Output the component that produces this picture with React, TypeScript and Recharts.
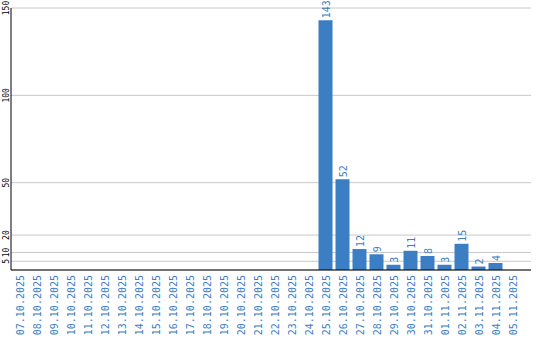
import { Bar, BarChart, CartesianGrid, LabelList, XAxis, YAxis } from 'recharts';

const days = [
  '07.10.2025', '08.10.2025', '09.10.2025', '10.10.2025', '11.10.2025',
  '12.10.2025', '13.10.2025', '14.10.2025', '15.10.2025', '16.10.2025',
  '17.10.2025', '18.10.2025', '19.10.2025', '20.10.2025', '21.10.2025',
  '22.10.2025', '23.10.2025', '24.10.2025', '25.10.2025', '26.10.2025',
  '27.10.2025', '28.10.2025', '29.10.2025', '30.10.2025', '31.10.2025',
  '01.11.2025', '02.11.2025', '03.11.2025', '04.11.2025', '05.11.2025',
];

const counts = [
  0, 0, 0, 0, 0, 0, 0, 0, 0, 0, 0, 0, 0, 0, 0, 0, 0, 0,
  143, 52, 12, 9, 3, 11, 8, 3, 15, 2, 4, 0,
];

const yTicks = [5, 10, 20, 50, 100, 150];

const BLUE = '#3b7ec4';
const FONT = '"DejaVu Sans Mono", monospace';

const chartData = days.map((d, i) => ({ day: d, views: counts[i] }));

const XTick = ({ x, y, payload }: any) => (
  <text
    transform={`translate(${x + 4},${y - 3}) rotate(-90)`}
    textAnchor="end"
    fontSize={10}
    fontFamily={FONT}
    fill={BLUE}
  >
    {payload.value}
  </text>
);

const YTick = ({ y, payload }: any) => (
  <text
    transform={`translate(8.5,${y}) rotate(-90)`}
    textAnchor="middle"
    fontSize={8}
    fontFamily={FONT}
    fill="#000"
  >
    {payload.value}
  </text>
);

const ValueLabel = ({ x, y, width, value }: any) => {
  if (!value) return null;
  return (
    <text
      transform={`translate(${x + width / 2 + 4},${y - 2}) rotate(-90)`}
      textAnchor="start"
      fontSize={10}
      fontFamily={FONT}
      fill={BLUE}
    >
      {value}
    </text>
  );
};

const App = () => (
  <div style={{ position: 'absolute', left: 0, top: 0 }}>
    <BarChart
      width={540}
      height={340}
      data={chartData}
      margin={{ top: 8, right: 9, left: 0, bottom: 0 }}
      barCategoryGap={1.5}
    >
      <CartesianGrid vertical={false} stroke="#c8c8c8" />
      <XAxis
        dataKey="day"
        interval={0}
        height={70}
        tickLine={false}
        axisLine={{ stroke: '#000' }}
        tick={<XTick />}
        padding={{ left: 0, right: 10 }}
      />
      <YAxis
        width={11}
        domain={[0, 150]}
        ticks={yTicks}
        interval={0}
        tickLine={false}
        axisLine={{ stroke: '#000' }}
        tick={<YTick />}
      />
      <Bar dataKey="views" fill={BLUE} isAnimationActive={false}>
        <LabelList dataKey="views" content={<ValueLabel />} />
      </Bar>
    </BarChart>
  </div>
);

export default App;
